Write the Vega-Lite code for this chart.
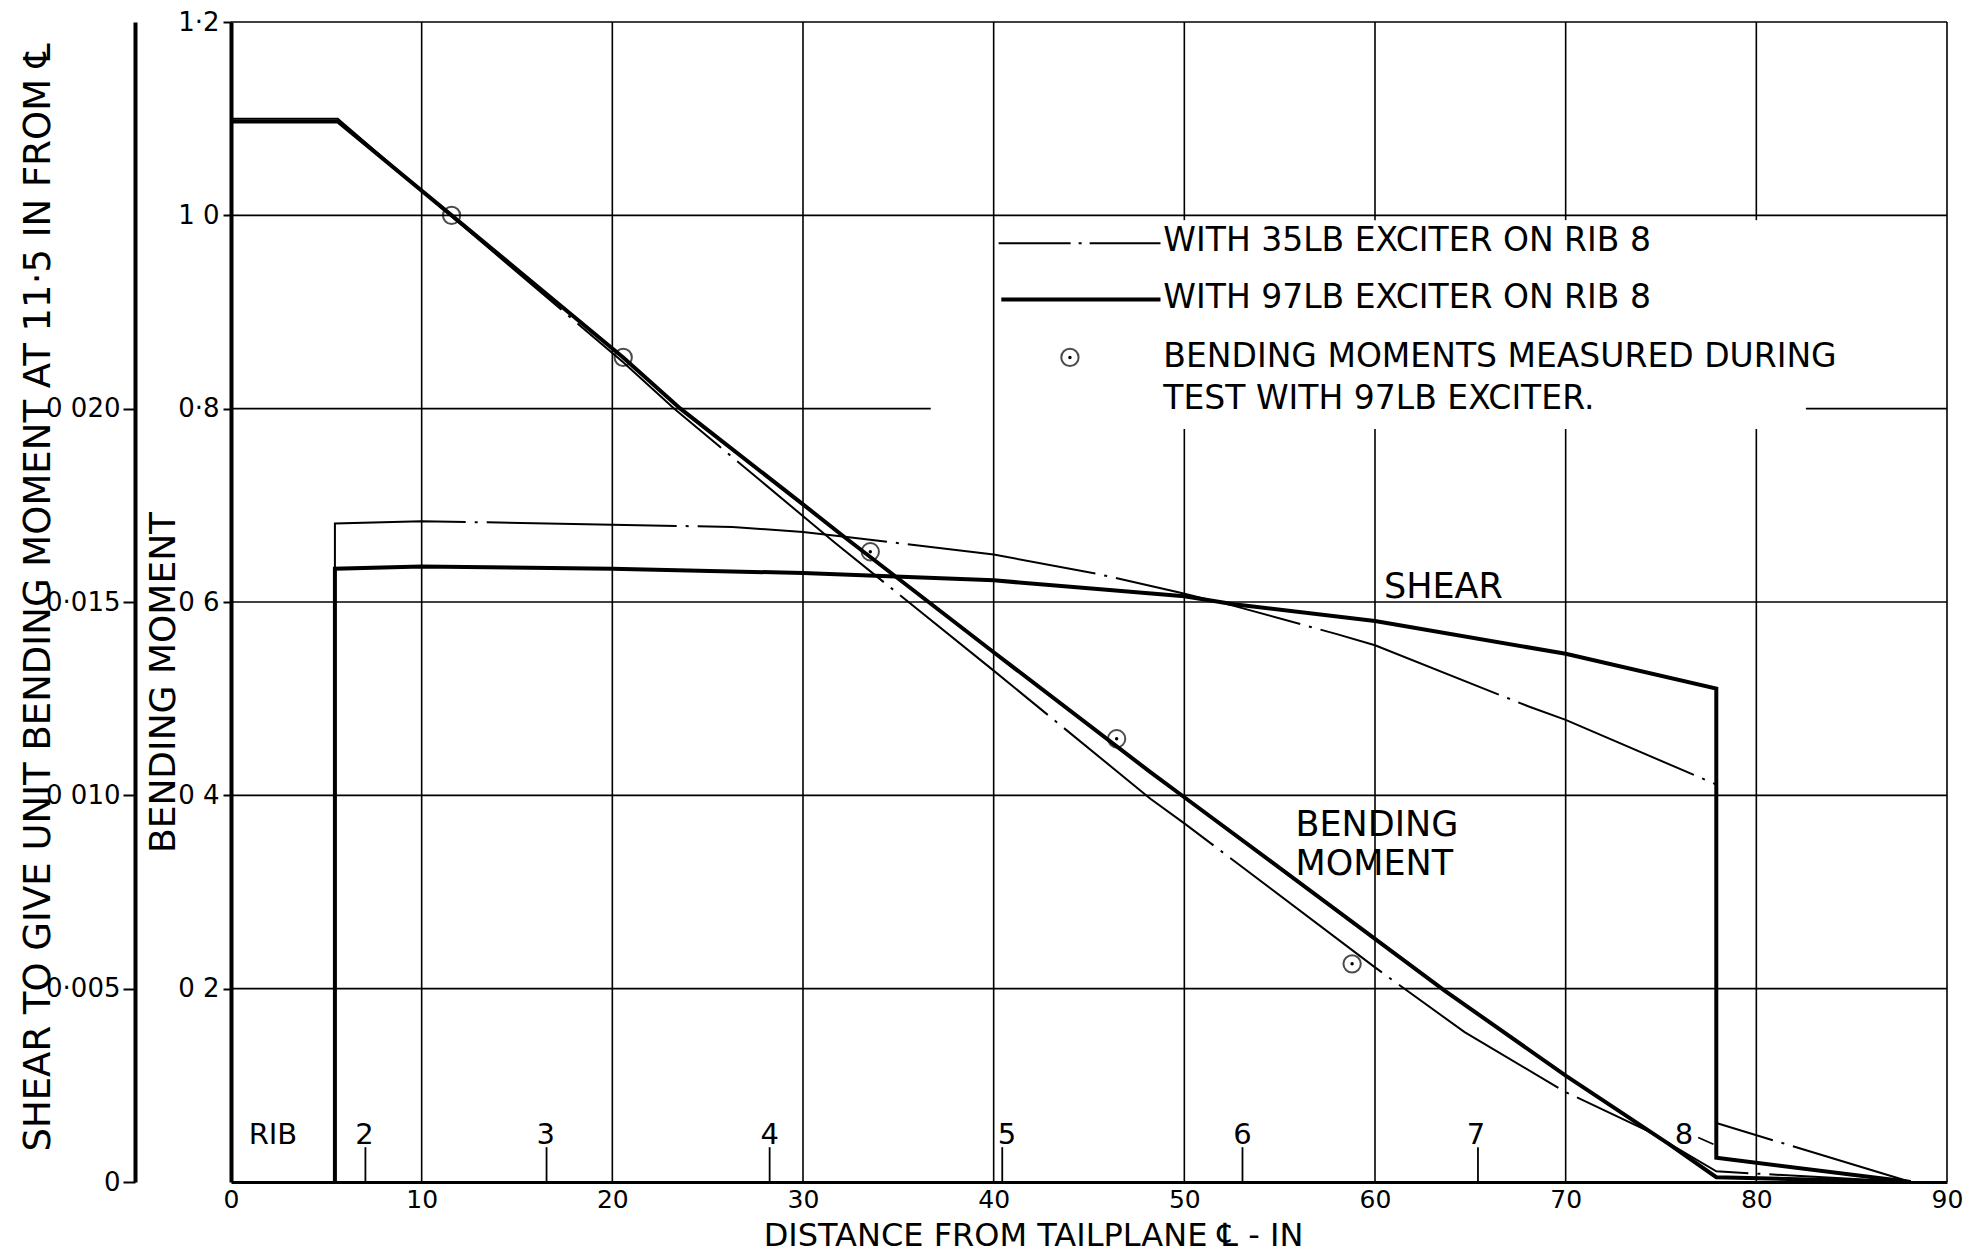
{
  "$schema": "https://vega.github.io/schema/vega-lite/v6.json",
  "width": 1716,
  "height": 1160,
  "autosize": {"type": "none"},
  "padding": {"left": 231, "top": 22, "right": 25, "bottom": 73},
  "background": "white",
  "config": {
    "font": "DejaVu Sans",
    "view": {"stroke": null},
    "axis": {
      "domainColor": "black", "tickColor": "black", "labelColor": "black", "titleColor": "black",
      "titleFontWeight": "normal", "labelFontSize": 26, "titleFontSize": 36, "grid": false,
      "labelFont": "DejaVu Sans", "titleFont": "DejaVu Sans", "labelOverlap": false, "labelFlush": false
    }
  },
  "datasets": {
    "vgrid": [
      {"x": 10, "y": 0, "y2": 1.2}, {"x": 20, "y": 0, "y2": 1.2}, {"x": 30, "y": 0, "y2": 1.2}, {"x": 40, "y": 0, "y2": 1.2},
      {"x": 50, "y": 0, "y2": 0.779}, {"x": 50, "y": 0.995, "y2": 1.2},
      {"x": 60, "y": 0, "y2": 0.779}, {"x": 60, "y": 0.995, "y2": 1.2},
      {"x": 70, "y": 0, "y2": 0.779}, {"x": 70, "y": 0.995, "y2": 1.2},
      {"x": 80, "y": 0, "y2": 0.779}, {"x": 80, "y": 0.995, "y2": 1.2},
      {"x": 90, "y": 0, "y2": 1.2}
    ],
    "hgrid": [
      {"y": 0.2, "x": 0, "x2": 90}, {"y": 0.4, "x": 0, "x2": 90}, {"y": 0.6, "x": 0, "x2": 90},
      {"y": 0.8, "x": 0, "x2": 36.7}, {"y": 0.8, "x": 82.6, "x2": 90},
      {"y": 1.0, "x": 0, "x2": 90}, {"y": 1.2, "x": 0, "x2": 90}
    ],
    "bm": [
      {"series": "97", "i": 0, "x": 0, "y": 1.097},
      {"series": "97", "i": 1, "x": 5.6, "y": 1.097},
      {"series": "97", "i": 2, "x": 11.57, "y": 1.0},
      {"series": "97", "i": 3, "x": 20.57, "y": 0.853},
      {"series": "97", "i": 4, "x": 23.57, "y": 0.8},
      {"series": "97", "i": 5, "x": 30, "y": 0.701},
      {"series": "97", "i": 6, "x": 32.12, "y": 0.668},
      {"series": "97", "i": 7, "x": 40, "y": 0.548},
      {"series": "97", "i": 8, "x": 48.22, "y": 0.424},
      {"series": "97", "i": 9, "x": 50, "y": 0.398},
      {"series": "97", "i": 10, "x": 60, "y": 0.2516},
      {"series": "97", "i": 11, "x": 63.65, "y": 0.198},
      {"series": "97", "i": 12, "x": 70, "y": 0.11},
      {"series": "97", "i": 13, "x": 75.4, "y": 0.0395},
      {"series": "97", "i": 14, "x": 77.9, "y": 0.005},
      {"series": "97", "i": 15, "x": 88, "y": 0},
      {"series": "35", "i": 0, "x": 0, "y": 1.1},
      {"series": "35", "i": 1, "x": 5.6, "y": 1.1},
      {"series": "35", "i": 2, "x": 11.5, "y": 1.0},
      {"series": "35", "i": 3, "x": 20.57, "y": 0.848},
      {"series": "35", "i": 4, "x": 23.25, "y": 0.8},
      {"series": "35", "i": 5, "x": 31.69, "y": 0.661},
      {"series": "35", "i": 6, "x": 40, "y": 0.529},
      {"series": "35", "i": 7, "x": 48.22, "y": 0.3965},
      {"series": "35", "i": 8, "x": 50, "y": 0.371},
      {"series": "35", "i": 9, "x": 60, "y": 0.222},
      {"series": "35", "i": 10, "x": 64.7, "y": 0.155},
      {"series": "35", "i": 11, "x": 70, "y": 0.093},
      {"series": "35", "i": 12, "x": 74.3, "y": 0.053},
      {"series": "35", "i": 13, "x": 77.9, "y": 0.011},
      {"series": "35", "i": 14, "x": 88, "y": 0}
    ],
    "shear": [
      {"series": "97", "i": 0, "x": 5.45, "s": 0},
      {"series": "97", "i": 1, "x": 5.45, "s": 0.01586},
      {"series": "97", "i": 2, "x": 10, "s": 0.01592},
      {"series": "97", "i": 3, "x": 20, "s": 0.01586},
      {"series": "97", "i": 4, "x": 30, "s": 0.01575},
      {"series": "97", "i": 5, "x": 40, "s": 0.01556},
      {"series": "97", "i": 6, "x": 45.6, "s": 0.01533},
      {"series": "97", "i": 7, "x": 50, "s": 0.01515},
      {"series": "97", "i": 8, "x": 52.6, "s": 0.01494},
      {"series": "97", "i": 9, "x": 60, "s": 0.01451},
      {"series": "97", "i": 10, "x": 70, "s": 0.01366},
      {"series": "97", "i": 11, "x": 77.9, "s": 0.01276},
      {"series": "97", "i": 12, "x": 77.9, "s": 0.000625},
      {"series": "97", "i": 13, "x": 88.1, "s": 0},
      {"series": "35", "i": 0, "x": 5.45, "s": 0.0155},
      {"series": "35", "i": 1, "x": 5.45, "s": 0.01703},
      {"series": "35", "i": 2, "x": 10, "s": 0.01709},
      {"series": "35", "i": 3, "x": 20, "s": 0.017},
      {"series": "35", "i": 4, "x": 26.3, "s": 0.01694},
      {"series": "35", "i": 5, "x": 30, "s": 0.01681},
      {"series": "35", "i": 6, "x": 32.3, "s": 0.01668},
      {"series": "35", "i": 7, "x": 40, "s": 0.01623},
      {"series": "35", "i": 8, "x": 45.6, "s": 0.01571},
      {"series": "35", "i": 9, "x": 49.8, "s": 0.01524},
      {"series": "35", "i": 10, "x": 52.6, "s": 0.0149},
      {"series": "35", "i": 11, "x": 58, "s": 0.01417},
      {"series": "35", "i": 12, "x": 60, "s": 0.01388},
      {"series": "35", "i": 13, "x": 68.1, "s": 0.01229},
      {"series": "35", "i": 14, "x": 70, "s": 0.01195},
      {"series": "35", "i": 15, "x": 77.9, "s": 0.01028},
      {"series": "35", "i": 16, "x": 77.9, "s": 0.001525},
      {"series": "35", "i": 17, "x": 88.1, "s": 0}
    ],
    "measured": [
      {"x": 11.57, "y": 1.0},
      {"x": 20.57, "y": 0.853},
      {"x": 33.53, "y": 0.652},
      {"x": 46.45, "y": 0.4585},
      {"x": 58.8, "y": 0.2257}
    ],
    "legendSymbol": [{"x": 44.0, "y": 0.853}],
    "legendLines": [
      {"series": "35", "x": 40.26, "x2": 48.75, "y": 0.971},
      {"series": "97", "x": 40.4, "x2": 48.75, "y": 0.913}
    ],
    "ribTicks": [
      {"x": 7.05, "y": 0, "y2": 0.036}, {"x": 16.55, "y": 0, "y2": 0.036}, {"x": 28.25, "y": 0, "y2": 0.036},
      {"x": 40.45, "y": 0, "y2": 0.036}, {"x": 53.05, "y": 0, "y2": 0.036}, {"x": 65.4, "y": 0, "y2": 0.036}
    ],
    "ribArrow": [{"x": 76.95, "x2": 77.75, "y": 0.046, "y2": 0.039}],
    "ribLabels": [
      {"label": "RIB", "x": 2.2, "y": 0.039}, {"label": "2", "x": 7.0, "y": 0.039}, {"label": "3", "x": 16.5, "y": 0.039},
      {"label": "4", "x": 28.25, "y": 0.039}, {"label": "5", "x": 40.7, "y": 0.039}, {"label": "6", "x": 53.05, "y": 0.039},
      {"label": "7", "x": 65.3, "y": 0.039}, {"label": "8", "x": 76.2, "y": 0.039}
    ],
    "legendText": [
      {"label": "WITH 35LB EXCITER ON RIB 8", "x": 48.9, "y": 0.973},
      {"label": "WITH 97LB EXCITER ON RIB 8", "x": 48.9, "y": 0.915},
      {"label": "BENDING MOMENTS MEASURED DURING", "x": 48.9, "y": 0.853},
      {"label": "TEST WITH 97LB EXCITER.", "x": 48.9, "y": 0.81}
    ],
    "curveLabels": [
      {"label": "SHEAR", "x": 60.47, "y": 0.616},
      {"label": "BENDING", "x": 55.83, "y": 0.369},
      {"label": "MOMENT", "x": 55.83, "y": 0.329}
    ]
  },
  "layer": [
    {
      "encoding": {
        "x": {
          "field": "x", "type": "quantitative",
          "scale": {"domain": [0, 90], "nice": false, "zero": false},
          "axis": {
            "values": [0, 10, 20, 30, 40, 50, 60, 70, 80, 90], "format": "d", "labelFontSize": 25,
            "ticks": false, "tickSize": 0, "labelPadding": 5, "domainWidth": 3,
            "title": "DISTANCE FROM TAILPLANE ℄ - IN", "titleFontSize": 32, "titleX": 802, "titleY": 53, "titleBaseline": "middle"
          }
        },
        "y": {
          "field": "y", "type": "quantitative",
          "scale": {"domain": [0, 1.2], "nice": false, "zero": false},
          "axis": {
            "values": [0.2, 0.4, 0.6, 0.8, 1.0, 1.2], "format": ".1f",
            "labelExpr": "datum.label == '1.2' ? '1·2' : datum.label == '1.0' ? '1 0' : datum.label == '0.8' ? '0·8' : datum.label == '0.6' ? '0 6' : datum.label == '0.4' ? '0 4' : datum.label == '0.2' ? '0 2' : ''",
            "domainWidth": 4, "tickSize": 8, "tickWidth": 2, "labelPadding": 4,
            "title": "BENDING MOMENT", "titleX": -68, "titleY": 660, "titleBaseline": "middle"
          }
        }
      },
      "layer": [
        {"data": {"name": "vgrid"}, "mark": {"type": "rule", "color": "black", "strokeWidth": 1.6}, "encoding": {"y2": {"field": "y2"}}},
        {"data": {"name": "hgrid"}, "mark": {"type": "rule", "color": "black", "strokeWidth": 1.6}, "encoding": {"x2": {"field": "x2"}}},
        {"data": {"name": "ribTicks"}, "mark": {"type": "rule", "color": "black", "strokeWidth": 1.8}, "encoding": {"y2": {"field": "y2"}}},
        {"data": {"name": "ribArrow"}, "mark": {"type": "rule", "color": "black", "strokeWidth": 1.8}, "encoding": {"x2": {"field": "x2"}, "y2": {"field": "y2"}}},
        {"data": {"name": "ribLabels"}, "mark": {"type": "text", "fontSize": 29, "align": "center", "baseline": "alphabetic", "color": "black"}, "encoding": {"text": {"field": "label"}}},
        {"data": {"name": "legendText"}, "mark": {"type": "text", "fontSize": 33, "align": "left", "baseline": "middle", "color": "black"}, "encoding": {"text": {"field": "label"}}},
        {"data": {"name": "curveLabels"}, "mark": {"type": "text", "fontSize": 35, "align": "left", "baseline": "middle", "color": "black"}, "encoding": {"text": {"field": "label"}}},
        {"data": {"name": "legendLines"}, "transform": [{"filter": "datum.series == '35'"}], "mark": {"type": "rule", "color": "black", "strokeWidth": 2, "strokeDash": [72, 8, 3, 8]}, "encoding": {"x2": {"field": "x2"}}},
        {"data": {"name": "legendLines"}, "transform": [{"filter": "datum.series == '97'"}], "mark": {"type": "rule", "color": "black", "strokeWidth": 4}, "encoding": {"x2": {"field": "x2"}}},
        {"data": {"name": "bm"}, "transform": [{"filter": "datum.series == '35'"}], "mark": {"type": "line", "color": "black", "strokeWidth": 2, "strokeDash": [190, 9, 3, 9]}, "encoding": {"order": {"field": "i", "type": "quantitative"}}},
        {"data": {"name": "bm"}, "transform": [{"filter": "datum.series == '97'"}], "mark": {"type": "line", "color": "black", "strokeWidth": 4}, "encoding": {"order": {"field": "i", "type": "quantitative"}}},
        {"data": {"name": "measured"}, "mark": {"type": "point", "shape": "circle", "size": 300, "filled": false, "stroke": "black", "strokeWidth": 2}, "encoding": {}},
        {"data": {"name": "measured"}, "mark": {"type": "point", "shape": "circle", "size": 12, "filled": true, "color": "black", "opacity": 1}, "encoding": {}},
        {"data": {"name": "legendSymbol"}, "mark": {"type": "point", "shape": "circle", "size": 300, "filled": false, "stroke": "black", "strokeWidth": 2}, "encoding": {}},
        {"data": {"name": "legendSymbol"}, "mark": {"type": "point", "shape": "circle", "size": 12, "filled": true, "color": "black", "opacity": 1}, "encoding": {}}
      ]
    },
    {
      "data": {"name": "shear"},
      "encoding": {
        "x": {
          "field": "x", "type": "quantitative",
          "scale": {"domain": [0, 90], "nice": false, "zero": false},
          "axis": {
            "values": [0, 10, 20, 30, 40, 50, 60, 70, 80, 90], "format": "d", "labelFontSize": 25,
            "ticks": false, "tickSize": 0, "labelPadding": 5, "domainWidth": 3,
            "title": "DISTANCE FROM TAILPLANE ℄ - IN", "titleFontSize": 32, "titleX": 802, "titleY": 53, "titleBaseline": "middle"
          }
        },
        "y": {
          "field": "s", "type": "quantitative",
          "scale": {"domain": [0, 0.03], "nice": false, "zero": false},
          "axis": {
            "orient": "left", "offset": 96,
            "values": [0, 0.005, 0.01, 0.015, 0.02], "format": ".3f",
            "labelExpr": "datum.label == '0.000' ? '0' : datum.label == '0.005' ? '0·005' : datum.label == '0.010' ? '0 010' : datum.label == '0.015' ? '0·015' : datum.label == '0.020' ? '0 020' : ''",
            "domainWidth": 4, "tickSize": 12, "tickWidth": 2, "labelPadding": 3,
            "title": "SHEAR TO GIVE UNIT BENDING MOMENT AT 11·5 IN FROM ℄", "titleFontSize": 37, "titleX": -97, "titleY": 575, "titleBaseline": "middle"
          }
        },
        "order": {"field": "i", "type": "quantitative"}
      },
      "layer": [
        {"transform": [{"filter": "datum.series == '35'"}], "mark": {"type": "line", "color": "black", "strokeWidth": 2, "strokeDash": [190, 9, 3, 9]}},
        {"transform": [{"filter": "datum.series == '97'"}], "mark": {"type": "line", "color": "black", "strokeWidth": 4}}
      ]
    }
  ],
  "resolve": {"scale": {"y": "independent"}}
}
